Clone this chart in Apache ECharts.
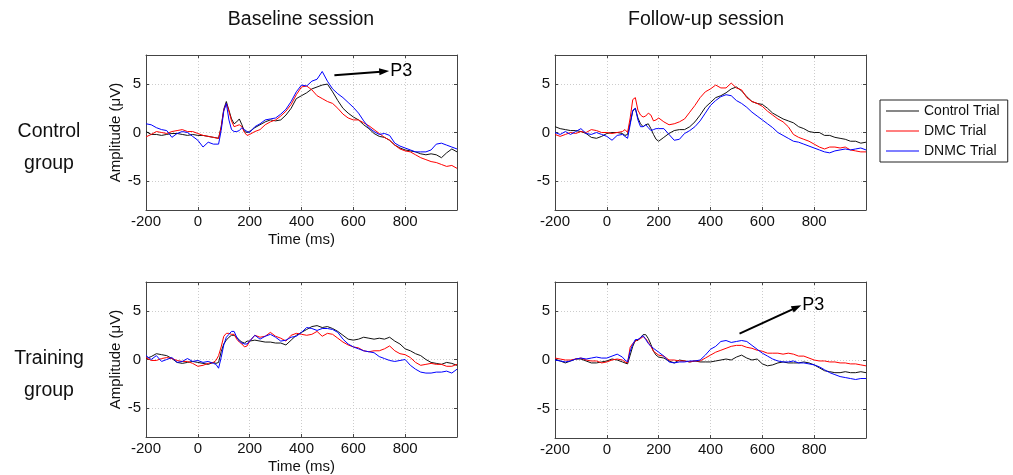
<!DOCTYPE html>
<html>
<head>
<meta charset="utf-8">
<script src="https://cdn.jsdelivr.net/npm/echarts@6/dist/echarts.min.js"></script>
<style>
  html, body { margin: 0; padding: 0; background: #fff; }
  #chart { width: 1013px; height: 475px; }
</style>
</head>
<body>
<div id="chart"></div>
<script>
// Sample times (ms); finer sampling around the early peak.
const TIME = [-200,-180,-160,-140,-120,-100,-80,-60,-40,-20,0,20,40,60,
  70,80,90,100,110,120,130,140,150,160,170,180,190,
  200,220,240,260,280,300,320,340,360,380,400,420,440,460,480,500,520,540,560,580,
  600,620,640,660,680,700,720,740,760,780,800,820,840,860,880,900,920,940,960,980,1000];

const TRIALS = ['Control Trial', 'DMC Trial', 'DNMC Trial'];
const SESSIONS = ['Baseline session', 'Follow-up session'];
const GROUPS = [['Control', 'group'], ['Training', 'group']];
const X_TICKS = [-200, 0, 200, 400, 600, 800];
const Y_TICKS = [-5, 0, 5];

// Control group, baseline session (µV)
const CG_BASE_CTRL = [0.1,-0.2,-0.2,-0.3,-0.2,-0.1,-0.1,-0.2,-0.3,-0.2,-0.3,-0.3,-0.4,-0.5,
  -0.55,-0.6,0.6,2.4,3.2,2.3,1.4,0.9,1.1,1.4,0.8,0.1,0.0,
  0.1,0.5,0.8,1.1,1.3,1.2,1.3,1.8,2.5,3.5,3.8,4.1,4.5,4.7,4.9,5.0,4.2,3.3,2.5,2.0,
  1.6,1.3,0.8,0.4,-0.1,-0.4,-0.5,-0.8,-1.3,-1.6,-1.8,-1.9,-2.0,-2.2,-2.3,-2.2,-2.3,-2.6,-2.1,-1.7,-2.0];
const CG_BASE_DMC = [-0.45,-0.2,0.1,0.0,-0.1,0.1,0.2,0.3,0.1,0.1,-0.1,-0.3,-0.4,-0.5,
  -0.55,-0.6,0.5,2.3,3.0,2.2,1.2,0.6,0.7,0.8,0.6,0.0,-0.3,
  -0.2,0.1,0.3,0.8,1.1,1.3,1.7,2.2,2.9,3.9,4.7,4.8,4.4,3.8,3.5,3.2,3.0,2.5,1.9,1.5,
  1.3,1.3,1.0,0.7,0.3,-0.1,-0.5,-0.8,-1.3,-1.7,-1.9,-2.0,-2.3,-2.6,-2.8,-3.0,-3.1,-3.3,-3.5,-3.4,-3.7];
const CG_BASE_DNMC = [0.9,0.8,0.5,0.3,0.2,-0.5,-0.1,0.1,0.0,-0.4,-0.8,-1.5,-1.0,-1.2,
  -1.2,-1.2,0.2,2.2,3.0,1.3,0.3,0.1,0.1,0.2,0.5,0.3,0.1,
  0.0,0.6,0.9,1.3,1.4,1.5,1.9,2.4,3.2,4.2,4.9,4.8,5.3,5.5,6.3,5.3,4.5,4.0,3.6,3.1,
  2.6,2.0,1.2,0.5,0.1,-0.2,-0.1,-0.3,-1.1,-1.4,-1.6,-1.8,-2.0,-2.0,-2.0,-1.8,-1.2,-1.1,-1.3,-1.5,-1.7];

// Control group, follow-up session (µV)
const CG_FOLLOW_CTRL = [0.6,0.4,0.3,0.2,0.2,0.1,-0.1,-0.5,-0.6,-0.4,-0.1,0.0,0.0,-0.1,
  -0.3,-0.2,1.0,2.2,2.5,1.5,0.9,0.6,0.8,0.9,0.4,-0.2,-0.7,
  -0.9,-0.5,-0.1,0.2,0.3,0.3,0.6,1.1,1.8,2.6,3.1,3.6,3.8,4.1,4.5,4.7,4.3,3.7,3.2,3.0,
  2.9,2.5,2.0,1.7,1.4,1.2,1.0,0.6,0.4,0.1,0.0,0.0,-0.3,-0.3,-0.5,-0.6,-0.7,-0.9,-0.9,-1.1,-1.0];
const CG_FOLLOW_DMC = [-0.2,-0.4,-0.2,0.0,-0.1,0.1,0.0,0.3,0.2,0.0,0.0,-0.1,0.0,0.1,
  0.3,0.0,1.5,3.4,3.6,2.3,1.8,1.6,1.7,2.0,1.8,1.2,1.3,
  1.5,1.1,0.8,0.9,1.1,1.4,2.1,2.8,3.6,4.2,4.5,4.9,4.6,4.6,5.1,4.6,4.4,3.6,3.2,3.0,
  2.7,2.2,1.8,1.4,1.1,0.6,-0.2,-0.5,-0.7,-0.9,-1.2,-1.5,-1.7,-1.5,-1.5,-1.6,-1.5,-1.8,-1.9,-2.0,-2.0];
const CG_FOLLOW_DNMC = [0.0,-0.2,0.1,-0.2,0.1,0.4,-0.1,-0.2,0.0,-0.2,-0.4,-0.8,-0.3,-0.2,
  -0.4,-0.6,0.8,2.3,2.5,1.3,0.6,0.6,0.8,0.5,0.2,0.3,0.4,
  0.4,0.4,-0.2,-0.8,-0.7,-0.1,0.2,0.6,1.2,2.0,2.8,3.3,3.7,3.9,3.8,3.3,3.0,2.6,2.1,1.7,
  1.3,0.9,0.5,0.0,-0.3,-0.6,-0.9,-1.0,-1.2,-1.4,-1.6,-1.8,-2.0,-2.1,-1.9,-1.8,-1.7,-1.8,-1.7,-1.6,-1.8];

// Training group, baseline session (µV)
const TG_BASE_CTRL = [0.1,0.3,0.6,0.5,0.4,0.1,-0.3,-0.4,-0.3,-0.2,-0.3,-0.4,-0.5,-0.3,
  -0.4,-0.3,0.8,1.6,2.0,2.3,2.5,2.5,2.3,2.0,1.8,1.7,1.9,
  1.9,2.0,1.9,1.8,1.8,1.7,1.7,1.5,2.0,2.5,2.8,3.1,3.4,3.5,3.3,3.4,3.2,2.9,2.5,2.1,
  2.0,2.1,2.3,2.2,2.1,2.2,2.1,2.3,1.9,1.6,1.1,0.9,0.6,0.4,0.0,-0.3,-0.4,-0.5,-0.3,-0.4,-0.6];
const TG_BASE_DMC = [0.2,-0.1,-0.1,0.1,0.2,0.1,-0.1,-0.2,-0.2,-0.4,-0.7,-0.6,-0.4,-0.3,
  -0.1,0.4,1.3,2.4,2.7,2.7,2.6,2.6,2.1,1.8,1.6,1.3,1.4,
  1.9,2.5,2.3,2.4,2.8,2.4,2.2,1.9,2.5,2.7,2.6,2.5,2.6,2.9,2.4,2.7,2.6,2.2,1.8,1.5,
  1.3,1.2,0.9,0.8,0.9,0.9,1.1,1.4,0.9,0.6,0.5,0.2,-0.3,-0.6,-0.5,-0.4,-0.5,-0.5,-0.7,-0.7,-0.5];
const TG_BASE_DNMC = [0.4,0.0,0.4,-0.2,0.0,0.2,-0.3,-0.2,0.1,-0.2,-0.1,-0.3,-0.2,-0.4,
  -0.5,-0.9,0.2,1.5,2.3,2.6,2.9,2.9,2.3,1.9,1.7,1.6,1.6,
  1.9,2.5,2.1,2.4,2.6,2.3,1.9,2.0,2.3,2.4,2.8,3.3,3.2,3.0,3.2,3.2,3.1,2.8,2.1,1.6,
  1.3,1.1,0.9,0.8,0.7,0.3,0.1,-0.1,-0.2,-0.1,0.0,-0.6,-1.0,-1.3,-1.4,-1.4,-1.3,-1.3,-1.2,-1.4,-1.0];

// Training group, follow-up session (µV)
const TG_FOLLOW_CTRL = [0.1,-0.1,-0.3,-0.1,0.1,0.1,-0.1,-0.3,-0.3,-0.2,-0.1,0.1,0.0,-0.2,
  -0.3,-0.4,0.5,1.4,2.0,2.0,2.3,2.6,2.6,2.2,1.6,0.9,0.5,
  0.3,0.2,-0.1,-0.3,0.0,-0.1,-0.2,-0.1,-0.2,-0.2,-0.2,-0.1,0.0,0.1,0.0,0.3,0.5,0.2,0.0,0.1,
  -0.4,-0.6,-0.5,-0.3,-0.2,-0.3,-0.3,-0.3,-0.2,-0.3,-0.5,-0.8,-1.1,-1.2,-1.3,-1.3,-1.2,-1.3,-1.3,-1.2,-1.3];
const TG_FOLLOW_DMC = [0.2,0.1,0.0,0.0,0.1,0.2,0.0,-0.1,-0.1,-0.3,-0.2,0.0,0.1,0.0,
  -0.2,-0.3,1.3,1.7,1.9,2.1,2.2,2.4,2.2,1.8,1.4,0.9,0.7,
  0.5,0.4,0.0,0.0,-0.1,-0.1,-0.2,-0.1,-0.1,0.2,0.5,0.8,1.0,1.2,1.4,1.5,1.5,1.3,1.2,1.0,
  0.9,0.7,0.7,0.7,0.6,0.7,0.6,0.4,0.4,0.2,0.0,-0.1,-0.1,-0.2,-0.2,-0.3,-0.3,-0.4,-0.4,-0.5,-0.6];
const TG_FOLLOW_DNMC = [0.0,-0.1,-0.2,-0.1,0.1,0.2,0.1,0.2,0.3,0.2,0.2,0.4,0.6,0.3,
  0.0,-0.2,0.9,1.6,2.1,2.1,2.3,2.5,2.1,1.7,1.4,1.2,1.0,
  0.8,0.4,-0.2,-0.3,-0.2,-0.2,-0.1,-0.1,0.0,0.5,1.1,1.4,1.9,2.0,1.8,1.9,2.0,1.9,1.5,1.1,
  0.7,0.4,0.1,-0.1,-0.2,-0.2,-0.1,-0.3,-0.3,-0.4,-0.5,-0.7,-1.0,-1.3,-1.5,-1.7,-1.8,-1.9,-2.0,-1.9,-1.9];

const FONT = '"Liberation Sans", Arial, Helvetica, sans-serif';
const COLORS = ['#111111', '#ff0000', '#0000ff'];
const FRAME = '#444444';

// Panel layout: [row][col]
const PANELS = [
  { grid: { left: 146, top: 55, width: 311, height: 155 }, traces: [CG_BASE_CTRL, CG_BASE_DMC, CG_BASE_DNMC], axisNames: true,
    arrow: [[527, 5.9], [719, 6.3]] },
  { grid: { left: 555, top: 55, width: 311, height: 155 }, traces: [CG_FOLLOW_CTRL, CG_FOLLOW_DMC, CG_FOLLOW_DNMC], axisNames: false },
  { grid: { left: 146, top: 282, width: 311, height: 156 }, traces: [TG_BASE_CTRL, TG_BASE_DMC, TG_BASE_DNMC], axisNames: true },
  { grid: { left: 555, top: 282, width: 311, height: 156 }, traces: [TG_FOLLOW_CTRL, TG_FOLLOW_DMC, TG_FOLLOW_DNMC], axisNames: false,
    arrow: [[512, 2.7], [733, 5.4]] }
];

const grids = [], xAxes = [], yAxes = [], series = [];

PANELS.forEach((p, i) => {
  grids.push(Object.assign({ show: false }, p.grid));
  const lineBase = { show: true, onZero: false, lineStyle: { color: FRAME, width: 1 } };
  const tickBase = { show: true, inside: true, length: 3, lineStyle: { color: FRAME, width: 1 } };
  const grid = { show: true, lineStyle: { color: '#cccccc', width: 1, type: [1, 2] } };

  // bottom x axis with labels and grid lines
  xAxes.push({
    gridIndex: i, type: 'value', min: -200, max: 1000, interval: 200,
    axisLine: lineBase, axisTick: tickBase, splitLine: grid,
    axisLabel: { show: true, margin: 4, color: '#111', fontSize: 15, fontFamily: FONT, showMaxLabel: false,
      formatter: v => (X_TICKS.indexOf(v) >= 0 ? String(v) : '') },
    name: p.axisNames ? 'Time (ms)' : '', nameLocation: 'middle', nameGap: 22,
    nameTextStyle: { color: '#111', fontSize: 15, fontFamily: FONT }
  });
  // top x axis: frame edge with inward ticks
  xAxes.push({
    gridIndex: i, type: 'value', position: 'top', min: -200, max: 1000, interval: 200,
    axisLine: lineBase, axisTick: tickBase, splitLine: { show: false }, axisLabel: { show: false }
  });
  // left y axis
  yAxes.push({
    gridIndex: i, type: 'value', min: -8, max: 8,
    axisLine: lineBase,
    axisTick: Object.assign({ customValues: Y_TICKS }, tickBase),
    splitLine: grid,
    axisLabel: { show: true, customValues: Y_TICKS, margin: 5, color: '#111', fontSize: 15, fontFamily: FONT },
    name: p.axisNames ? 'Amplitude (\u03bcV)' : '', nameLocation: 'middle', nameGap: 22,
    nameTextStyle: { color: '#111', fontSize: 15, fontFamily: FONT }
  });
  // right y axis: frame edge
  yAxes.push({
    gridIndex: i, type: 'value', position: 'right', min: -8, max: 8,
    axisLine: lineBase,
    axisTick: Object.assign({ customValues: Y_TICKS }, tickBase),
    splitLine: { show: false },
    axisLabel: { show: false, customValues: Y_TICKS }
  });

  p.traces.forEach((vals, k) => {
    const s = {
      type: 'line', name: TRIALS[k],
      xAxisIndex: 2 * i, yAxisIndex: 2 * i,
      data: TIME.map((t, j) => [t, vals[j]]),
      symbol: 'none', showSymbol: false, smooth: false,
      lineStyle: { color: COLORS[k], width: 1 },
      itemStyle: { color: COLORS[k] },
      emphasis: { disabled: true },
      z: 3 + k
    };
    if (k === 0 && p.arrow) {
      s.markLine = {
        silent: true, animation: false,
        symbol: ['none', 'triangle'], symbolSize: [7, 10],
        lineStyle: { color: '#000', width: 2, type: 'solid' },
        emphasis: { disabled: true },
        label: { show: true, position: 'end', formatter: 'P3', color: '#000', fontSize: 18, fontFamily: FONT, distance: 6 },
        data: [[{ coord: p.arrow[0] }, { coord: p.arrow[1] }]]
      };
    }
    series.push(s);
  });
});

const textEl = (text, x, y, size) => ({
  type: 'text', silent: true,
  style: { text, x, y, fill: '#111', font: size + 'px ' + FONT, textAlign: 'center', textVerticalAlign: 'middle' }
});

const graphics = [
  textEl(SESSIONS[0], 301, 20, 19.5),
  textEl(SESSIONS[1], 706, 20, 19.5),
  textEl(GROUPS[0][0], 49, 132, 19.5),
  textEl(GROUPS[0][1], 49, 164, 19.5),
  textEl(GROUPS[1][0], 49, 359, 19.5),
  textEl(GROUPS[1][1], 49, 391, 19.5)
];

const chart = echarts.init(document.getElementById('chart'), null, { renderer: 'canvas' });
chart.setOption({
  animation: false,
  backgroundColor: '#fff',
  grid: grids,
  xAxis: xAxes,
  yAxis: yAxes,
  legend: {
    data: TRIALS.map(name => ({ name, icon: 'rect', itemStyle: { opacity: 1 } })),
    orient: 'vertical', left: 880, top: 100,
    itemWidth: 33, itemHeight: 1, itemGap: 4,
    padding: [3, 8, 3, 6],
    borderColor: '#222', borderWidth: 1, backgroundColor: '#fff',
    selectedMode: false,
    textStyle: { color: '#111', fontSize: 14, fontFamily: FONT, lineHeight: 16 }
  },
  graphic: graphics,
  series: series
});
</script>
</body>
</html>
